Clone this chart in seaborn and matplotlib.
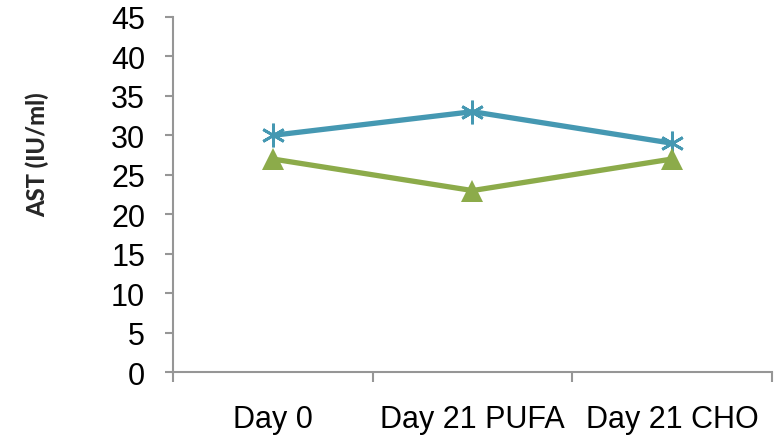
import matplotlib
matplotlib.use("Agg")
import matplotlib.pyplot as plt
import seaborn as sns
import pandas as pd

categories = ["Day 0", "Day 21 PUFA", "Day 21 CHO"]
series_a = [30, 33, 29]
series_b = [27, 23, 27]
y_ticks = [0, 5, 10, 15, 20, 25, 30, 35, 40, 45]

sns.set_theme(style="white")
plt.rcParams["font.family"] = ["Liberation Sans", "DejaVu Sans"]

df = pd.DataFrame({
    "x": list(range(len(categories))) * 2,
    "value": series_a + series_b,
    "series": ["A"] * 3 + ["B"] * 3,
})

fig = plt.figure(figsize=(7.75, 4.39), dpi=100)
ax = fig.add_axes([0.2232, 0.1503, 0.7728, 0.8087])

palette = {"A": "#4598b2", "B": "#8cab4a"}
sns.lineplot(data=df[df.series == "A"], x="x", y="value", color=palette["A"],
             linewidth=3.8, marker=(6, 2, 0), markersize=17, markeredgewidth=2,
             markeredgecolor=palette["A"], ax=ax, legend=False)
sns.lineplot(data=df[df.series == "B"], x="x", y="value", color=palette["B"],
             linewidth=3.8, marker="^", markersize=16, markeredgewidth=0,
             ax=ax, legend=False)

ax.set_xlim(-0.5, 2.5)
ax.set_ylim(0, 45)
ax.set_yticks(y_ticks)
ax.set_yticklabels([str(v) for v in y_ticks], fontsize=22, color="black")

ax.set_xticks(range(len(categories)))
ax.set_xticklabels(categories, fontsize=22, color="black")
ax.set_xticks([-0.5, 0.5, 1.5, 2.5], minor=True)
ax.tick_params(axis="x", which="major", length=0, pad=23)
ax.tick_params(axis="x", which="minor", length=7, width=1.5, color="#969696", direction="out", bottom=True)
ax.tick_params(axis="y", which="major", length=6, width=1.5, color="#969696", direction="out", left=True, pad=14)

ax.set_xlabel("")
ax.set_ylabel("")
fig.text(37 / 775, 1 - 155 / 439, "AST (IU/ml)", rotation=90, ha="center", va="center",
         fontsize=17, fontweight="black", family=["Lato", "DejaVu Sans"])

for side in ["top", "right"]:
    ax.spines[side].set_visible(False)
for side in ["left", "bottom"]:
    ax.spines[side].set_color("#969696")
    ax.spines[side].set_linewidth(1.5)

ax.grid(False)
fig.savefig("out.png", dpi=100)
